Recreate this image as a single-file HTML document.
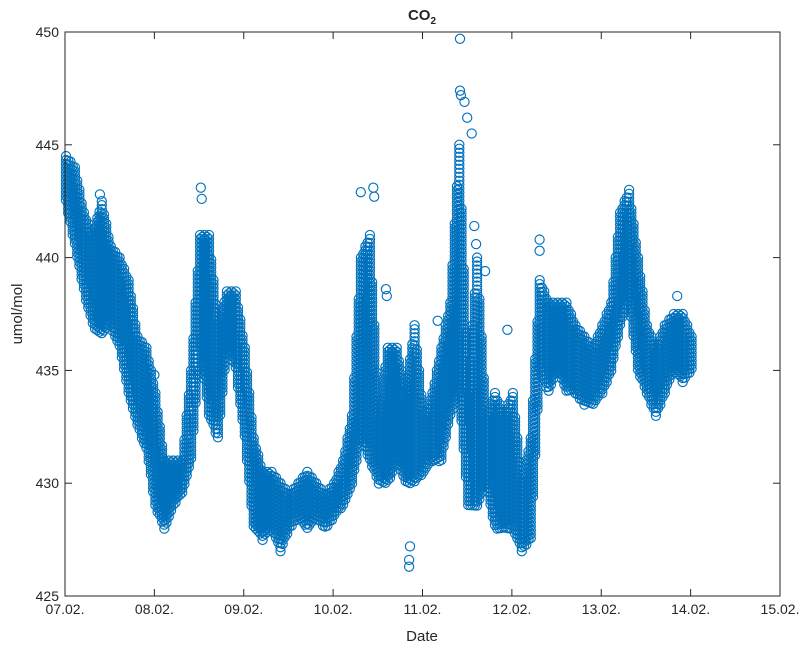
<!DOCTYPE html>
<html><head><meta charset="utf-8"><style>
body{margin:0;background:#fff;}
svg text{font-family:"Liberation Sans",sans-serif;fill:#262626;}
</style></head><body>
<svg id="chart" width="800" height="646" xmlns="http://www.w3.org/2000/svg">
<rect width="800" height="646" fill="#fff"/>
<g id="marks"></g>
<g id="axes"></g>
<text x="422" y="20" text-anchor="middle" font-size="15" font-weight="bold">CO<tspan font-size="10" dy="4">2</tspan></text>
<text x="422" y="641" text-anchor="middle" font-size="15">Date</text>
<text transform="translate(22,314) rotate(-90)" text-anchor="middle" font-size="15">umol/mol</text>
</svg>
<script>
const xTickLabels=["07.02.","08.02.","09.02.","10.02.","11.02.","12.02.","13.02.","14.02.","15.02."];
const yTicks=[425,430,435,440,445,450];
const sampleDays=[0,0.1,0.2,0.3,0.4,0.5,0.6,0.7,0.8,0.9,1.0,1.1,1.2,1.3,1.4,1.5,1.6,1.7,1.8,1.9,2.0,2.1,2.2,2.3,2.4,2.5,2.6,2.7,2.8,2.9,3.0,3.1,3.2,3.3,3.4,3.5,3.6,3.7,3.8,3.9,4.0,4.1,4.2,4.3,4.4,4.5,4.6,4.7,4.8,4.9,5.0,5.1,5.2,5.3,5.4,5.5,5.6,5.7,5.8,5.9,6.0,6.1,6.2,6.3,6.4,6.5,6.6,6.7,6.8,6.9,7.0];
const lowValues=[442.5,440.5,438.5,437,436.5,437,436,434,432.5,431.5,429,428,429,429.5,431,436,433,432,436,435,432,428,427.5,428,427,428,428.5,428,428.5,428,428.5,429,430,432,431,430,430,431,430,430,430.5,431,431,433,434,429,429,430,428,428,428,427,427.5,435,434,435,434,434,433.5,433.5,434,435,437,438,435,434,433,434,435,434.5,435];
const highValues=[444.5,444,442,441,442.5,440.5,440,439,436.5,436,434,431,431,431,435,441,441,437,438.5,438.5,436,432,430.5,430.5,430,429.5,430,430.5,430,429.5,430,431,433,440,441,433,436,436,434,437,433,434,436,438,445,434,440,433,434,433,434,430,432,439,438,438,438,437,436.5,436,437,438,442,443,440,437,436,437,437.5,437.5,436.5];
const outlierDays=[4.42,4.42,4.43,4.47,4.5,4.55,3.85,3.85,3.86,3.45,3.46,3.31,5.31,5.31,4.7,1.52,1.53,0.39,1.0,3.59,3.6,4.58,4.6,4.17,4.95,6.52,6.85];
const outlierValues=[449.7,447.4,447.2,446.9,446.2,445.5,426.3,426.6,427.2,443.1,442.7,442.9,440.8,440.3,439.4,443.1,442.6,442.8,434.8,438.6,438.3,441.4,440.6,437.2,436.8,434.9,438.3];
const X0=65,X1=780,Y0=596,Y1=32;
function xs(d){return X0+(X1-X0)*d/8;}
function ys(v){return Y0-(Y0-Y1)*(v-425)/25;}
const NS="http://www.w3.org/2000/svg";
const marks=document.getElementById('marks');
function circ(x,y){
  const c=document.createElementNS(NS,'circle');
  c.setAttribute('cx',x.toFixed(1));c.setAttribute('cy',y.toFixed(1));c.setAttribute('r','4.6');
  c.setAttribute('fill','none');c.setAttribute('stroke','#0072BD');c.setAttribute('stroke-width','1.15');
  
  
  marks.appendChild(c);
}
const SUB=4;
for(let i=0;i<sampleDays.length;i++){
  const last=i===sampleDays.length-1;
  const n=last?1:SUB;
  for(let k=0;k<n;k++){
    const f=k/SUB;
    const d=last?sampleDays[i]:sampleDays[i]+(sampleDays[i+1]-sampleDays[i])*f;
    const lo=last?lowValues[i]:lowValues[i]+(lowValues[i+1]-lowValues[i])*f;
    const hi=last?highValues[i]:highValues[i]+(highValues[i+1]-highValues[i])*f;
    const x=xs(d)+1;
    const yTop=ys(hi),yBot=ys(lo);
    const off=(k%2)*2;
    for(let y=yTop+off;y<=yBot+0.5;y+=4)circ(x,y);
  }
}
for(let i=0;i<outlierDays.length;i++)circ(xs(outlierDays[i]),ys(outlierValues[i]));
const ax=document.getElementById('axes');
function el(tag,attrs,name,text){
  const e=document.createElementNS(NS,tag);
  for(const k in attrs)e.setAttribute(k,attrs[k]);
  
  
  if(text!==undefined)e.textContent=text;
  ax.appendChild(e);return e;
}
el('rect',{x:X0,y:Y1,width:X1-X0,height:Y0-Y1,fill:'none',stroke:'#262626','stroke-width':1},'plot-frame');
xTickLabels.forEach((t,i)=>{
  const x=xs(i);
  el('line',{x1:x,x2:x,y1:Y0,y2:Y0-7,stroke:'#262626'},'x-tick');
  el('line',{x1:x,x2:x,y1:Y1,y2:Y1+7,stroke:'#262626'},'x-tick-top');
  el('text',{x:x,y:Y0+18,'text-anchor':'middle','font-size':14},'x-tick-label',t);
});
yTicks.forEach(v=>{
  const y=ys(v);
  el('line',{x1:X0,x2:X0+7,y1:y,y2:y,stroke:'#262626'},'y-tick');
  el('line',{x1:X1,x2:X1-7,y1:y,y2:y,stroke:'#262626'},'y-tick-right');
  el('text',{x:X0-6,y:y+5,'text-anchor':'end','font-size':14},'y-tick-label',String(v));
});
</script>
</body></html>
